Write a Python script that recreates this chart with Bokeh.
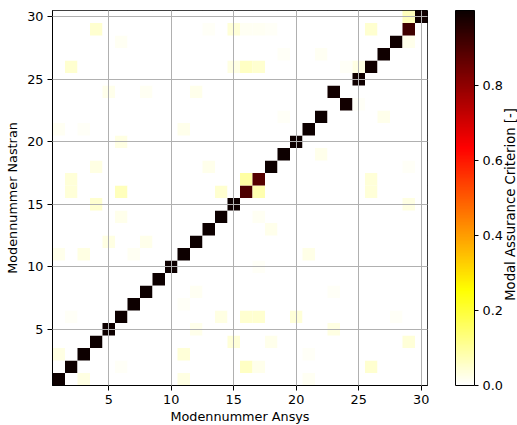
import math
import numpy as np
from bokeh.plotting import figure
from bokeh.layouts import row
from bokeh.models import (ColumnDataSource, Range1d, FixedTicker, LinearColorMapper,
                          ColorBar, PrintfTickFormatter, Label)
from bokeh.embed import file_html
from bokeh.resources import INLINE

# ---------------- data ----------------
n_modes = 30
# (Ansys mode, Nastran mode, MAC value) for non-negligible entries
ansys_mode = [
    1, 2, 3, 4, 5, 6, 7, 8, 9, 10, 11, 12, 13, 14, 15,
    16, 17, 16, 17,
    18, 19, 20, 21, 22,
    23, 24,
    25, 26, 27, 28, 29, 30, 29,
    4, 2, 6, 5, 8, 12, 1, 3, 11, 6, 4, 13, 2, 2, 6, 14, 4, 6,
    15, 13, 15, 16, 17, 18, 26, 16, 17, 19, 22, 25, 24, 29,
    19, 27, 25, 22, 26, 26, 29, 29, 17,
    5, 8, 1, 3, 7, 12, 11, 14, 12, 15, 1, 11, 2, 3, 11, 6,
    18, 21, 17, 16, 17, 20, 28, 23, 18, 29, 16, 17, 26, 21, 21, 23,
]
nastran_mode = [
    1, 2, 3, 4, 5, 6, 7, 8, 9, 10, 11, 12, 13, 14, 15,
    16, 17, 17, 16,
    18, 19, 20, 21, 22,
    24, 23,
    25, 26, 27, 28, 29, 30, 30,
    29, 26, 28, 24, 24, 24, 21, 21, 21, 20, 18, 18, 17, 16, 16, 16, 15, 14,
    29, 29, 26, 29, 29, 29, 29, 26, 26, 27, 27, 26, 26, 28,
    22, 22, 23, 19, 17, 16, 18, 15, 14,
    12, 12, 11, 11, 11, 8, 7, 6, 5, 4, 3, 3, 6, 1, 1, 2,
    13, 11, 10, 6, 6, 6, 6, 5, 4, 4, 2, 2, 2, 3, 1, 8,
]
mac_value = [
    0.995, 0.995, 0.995, 0.995, 0.995, 0.995, 0.995, 0.995, 0.995, 0.995, 0.995, 0.995, 0.995, 0.995, 0.995,
    0.90, 0.89, 0.09, 0.08,
    0.995, 0.995, 0.995, 0.995, 0.995,
    0.985, 0.985,
    0.99, 0.99, 0.99, 0.99, 0.92, 0.99, 0.07,
    0.05, 0.05, 0.012, 0.02, 0.015, 0.02, 0.015, 0.01, 0.02, 0.03, 0.03, 0.02, 0.04, 0.04, 0.07, 0.05, 0.05, 0.02,
    0.04, 0.01, 0.03, 0.012, 0.012, 0.01, 0.05, 0.06, 0.05, 0.01, 0.015, 0.03, 0.01, 0.02,
    0.01, 0.02, 0.01, 0.02, 0.04, 0.04, 0.01, 0.03, 0.015,
    0.03, 0.02, 0.02, 0.03, 0.015, 0.015, 0.01, 0.03, 0.02, 0.04, 0.03, 0.04, 0.008, 0.03, 0.03, 0.008,
    0.02, 0.025, 0.01, 0.05, 0.05, 0.04, 0.01, 0.03, 0.02, 0.04, 0.06, 0.02, 0.05, 0.01, 0.015, 0.01,
]
tick_values = [5, 10, 15, 20, 25, 30]
cbar_ticks = [0.0, 0.2, 0.4, 0.6, 0.8]
cbar_title = "Modal Assurance Criterion [-]"

# ---------------- matrix ----------------
mac = np.zeros((n_modes, n_modes))
for a, nn, v in zip(ansys_mode, nastran_mode, mac_value):
    mac[nn - 1, a - 1] = v
xs, ys, vs = [], [], []
for j in range(n_modes):
    for i in range(n_modes):
        xs.append(i + 1)
        ys.append(j + 1)
        vs.append(mac[j, i])
source = ColumnDataSource(dict(x=xs, y=ys, mac=vs))

# ---------------- hot_r palette ----------------
def hot(t):
    r = np.interp(t, [0.0, 0.365079, 1.0], [0.0416, 1.0, 1.0])
    g = np.interp(t, [0.0, 0.365079, 0.746032, 1.0], [0.0, 0.0, 1.0, 1.0])
    b = np.interp(t, [0.0, 0.746032, 1.0], [0.0, 0.0, 1.0])
    return "#%02x%02x%02x" % (int(round(r * 255)), int(round(g * 255)), int(round(b * 255)))

palette = [hot(1.0 - k / 255.0) for k in range(256)]
mapper = LinearColorMapper(palette=palette, low=0.0, high=1.0)

FONT = "DejaVu Sans"
FS = "12.8px"

# ---------------- main heat map ----------------
p = figure(frame_width=375, frame_height=375,
           x_range=Range1d(0.5, 30.5), y_range=Range1d(0.5, 30.5),
           output_backend="svg", toolbar_location=None,
           min_border_left=52, min_border_right=13, min_border_top=10, min_border_bottom=40)

p.rect(x="x", y="y", width=1, height=1, source=source,
       fill_color={"field": "mac", "transform": mapper}, line_color=None)

for ax in (p.xaxis, p.yaxis):
    ax.ticker = FixedTicker(ticks=tick_values)
    ax.minor_tick_line_color = None
    ax.major_tick_in = 0
    ax.major_tick_out = 5
    ax.major_tick_line_color = "black"
    ax.axis_line_color = "black"
    ax.major_label_text_font = FONT
    ax.major_label_text_font_size = FS
    ax.major_label_text_color = "black"
    ax.axis_label_text_font = FONT
    ax.axis_label_text_font_size = FS
    ax.axis_label_text_font_style = "normal"
    ax.axis_label_text_color = "black"
    ax.major_label_standoff = 4

p.xaxis.axis_label_standoff = 2
p.yaxis.axis_label_standoff = 4
p.xaxis.axis_label = "Modennummer Ansys"
p.yaxis.axis_label = "Modennummer Nastran"

p.xgrid.ticker = FixedTicker(ticks=tick_values)
p.ygrid.ticker = FixedTicker(ticks=tick_values)
for g in (p.xgrid, p.ygrid):
    g.grid_line_color = "#b0b0b0"
    g.grid_line_width = 1
    g.level = "overlay"

p.outline_line_color = "black"
p.outline_line_width = 1
p.background_fill_color = "white"
p.border_fill_color = "white"

# ---------------- colour bar panel ----------------
pc = figure(frame_width=77, frame_height=425,
            x_range=Range1d(0, 1), y_range=Range1d(0, 1),
            output_backend="svg", toolbar_location=None,
            x_axis_location=None, y_axis_location=None,
            min_border_left=0, min_border_right=0, min_border_top=0, min_border_bottom=0)
pc.outline_line_color = None
pc.xgrid.visible = False
pc.ygrid.visible = False
pc.background_fill_color = "white"
pc.border_fill_color = "white"

cb = ColorBar(color_mapper=mapper, location=(15, 50), width=19, height=375,
              padding=0, margin=0,
              ticker=FixedTicker(ticks=cbar_ticks),
              formatter=PrintfTickFormatter(format="%.1f"),
              major_tick_in=0, major_tick_out=4, major_tick_line_color="black",
              minor_tick_line_color=None,
              bar_line_color="black", bar_line_width=1,
              border_line_color=None, background_fill_alpha=0,
              major_label_text_font=FONT, major_label_text_font_size=FS,
              major_label_text_color="black", label_standoff=4)
pc.add_layout(cb, "center")

lbl = Label(x=70, y=231, x_units="screen", y_units="screen",
            text=cbar_title, angle=math.pi / 2,
            text_align="center", text_baseline="middle",
            text_font=FONT, text_font_size="13.2px", text_color="black")
pc.add_layout(lbl)

layout = row(p, pc, spacing=0)
open("out.html", "w").write(file_html(layout, INLINE))
